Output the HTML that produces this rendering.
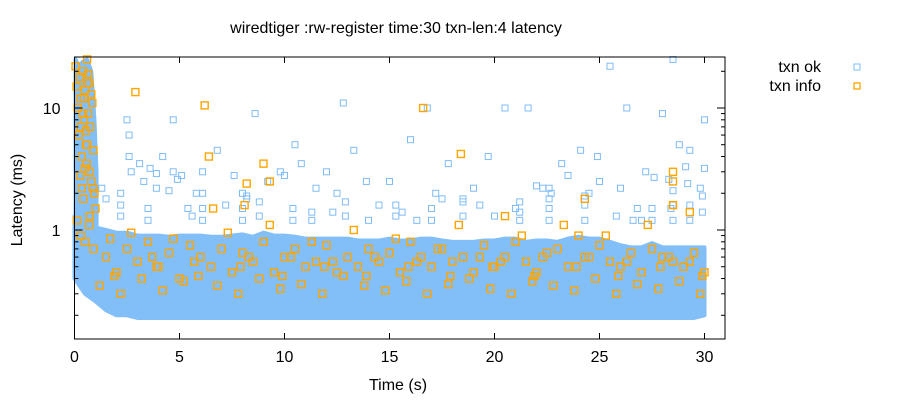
<!DOCTYPE html>
<html><head><meta charset="utf-8"><style>
html,body{margin:0;padding:0;background:#fff;}
svg{display:block;font-family:"Liberation Sans",sans-serif;}
</style></head><body>
<svg id="chart" width="900" height="400" viewBox="0 0 900 400">
<text x="396" y="33" font-size="16" text-anchor="middle">wiredtiger :rw-register time:30 txn-len:4 latency</text>
<text x="398" y="390" font-size="16" text-anchor="middle">Time (s)</text>
<text transform="translate(22,200) rotate(-90)" font-size="16" text-anchor="middle">Latency (ms)</text>
<g id="marks"></g>
<g id="axes"></g>
<g>
<text x="821" y="72" font-size="16" text-anchor="end">txn ok</text>
<rect x="854" y="64" width="6" height="6" fill="none" stroke="#7fbcf7" stroke-width="1"/>
<text x="821" y="91" font-size="16" text-anchor="end">txn info</text>
<rect x="854" y="83" width="6" height="6" fill="none" stroke="#ffa500" stroke-width="1.3"/>
</g>
</svg>
<script>
const xTicks=[0,5,10,15,20,25,30];
const yTicks=[1,10];
// dense band of txn ok latencies (per 0.5s bin): low and high edges
const bandT=[0,0.5,1,1.5,2,2.5,3,3.5,4,4.5,5,5.5,6,6.5,7,7.5,8,8.5,9,9.5,10,10.5,11,11.5,12,12.5,13,13.5,14,14.5,15,15.5,16,16.5,17,17.5,18,18.5,19,19.5,20,20.5,21,21.5,22,22.5,23,23.5,24,24.5,25,25.5,26,26.5,27,27.5,28,28.5,29,29.5,30];
const bandLo=[0.4,0.3,0.26,0.22,0.2,0.2,0.19,0.19,0.19,0.19,0.19,0.19,0.19,0.19,0.19,0.19,0.19,0.19,0.19,0.19,0.19,0.19,0.19,0.19,0.19,0.19,0.19,0.19,0.19,0.19,0.19,0.19,0.19,0.19,0.19,0.19,0.19,0.19,0.19,0.19,0.19,0.19,0.19,0.19,0.19,0.19,0.19,0.19,0.19,0.19,0.19,0.19,0.19,0.19,0.19,0.19,0.19,0.19,0.19,0.19,0.2];
const bandHi=[1.3,1.1,1.05,1.0,0.95,0.95,0.9,0.9,0.9,0.88,0.9,0.9,0.9,0.88,0.88,0.9,0.92,0.88,0.95,0.9,0.9,0.88,0.85,0.85,0.85,0.85,0.85,0.82,0.82,0.82,0.85,0.82,0.82,0.85,0.85,0.82,0.8,0.8,0.8,0.82,0.82,0.85,0.85,0.8,0.82,0.82,0.8,0.85,0.88,0.85,0.85,0.8,0.75,0.72,0.72,0.78,0.72,0.72,0.72,0.72,0.72];
// early burst column (0-1.1s) of txn ok latencies
const burstT=[0.05,0.2,0.4,0.6,0.8,0.95,1.05];
const burstHi=[25,22,24,25,20,8,3];
const burstLo=[0.6,0.8,0.9,0.9,0.9,0.9,0.9];
// scattered txn ok outliers
const okT=[1.3,1.5,2.5,2.6,2.6,2.7,3.1,3.6,3.9,3.9,4.2,4.5,4.7,4.7,4.9,5.1,5.4,5.8,6.1,6.8,7.2,7.6,8.0,8.2,8.6,9.2,9.8,10.0,10.5,10.8,11.5,12.0,12.5,12.8,13.3,13.9,14.5,15.0,15.6,16.0,16.8,17.2,17.8,18.5,19.0,19.7,20.5,21.0,21.6,22.3,22.7,23.2,23.5,24.1,24.5,25.0,25.5,26.0,26.3,26.8,27.2,27.6,28.0,28.3,28.5,28.8,29.1,29.3,29.8,30.0,30.0,29.2,28.4,27.0,22.0,17.5,12.3,8.2,3.3,5.6,24.9,19.3,
 2.2,2.2,2.2,3.5,3.5,6.1,6.1,6.1,8.0,8.0,8.8,8.8,10.4,10.4,11.3,11.3,12.9,12.9,14.0,15.3,15.3,16.3,17.0,17.0,18.5,18.5,21.2,21.2,21.2,22.6,22.6,22.6,22.6,24.3,24.3,24.3,25.8,27.5,27.5,28.5,28.5,28.5,29.3,29.3,29.9,29.9,20.0,26.6];
const okV=[2.2,1.8,8,6,4,3,3.5,3.2,2.9,2.2,4.0,2.1,8,3,2.6,2.8,1.5,2.0,3.0,4.5,1.6,2.8,2.0,1.8,9,2.5,3,2.8,5,3.5,2.2,3.0,2.0,11,4.5,2.5,1.6,2.5,1.4,5.5,10,2,3.5,1.8,2.2,4,10,1.5,10,2.2,2.0,3.5,2.8,4.5,2,2.5,22,2.2,10,1.5,3,2.7,9,2.6,25,5,3.3,4.5,2.2,8,3.2,2.4,1.5,1.2,2.3,1.8,1.4,1.9,2.5,1.3,4,1.6,
 1.3,1.6,2.0,1.2,1.5,1.2,1.5,2.0,1.2,1.5,1.3,1.7,1.2,1.5,1.2,1.4,1.3,1.7,1.2,1.3,1.6,1.2,1.2,1.5,1.3,1.7,1.2,1.4,1.7,1.2,1.5,1.8,2.2,1.2,1.6,1.9,1.3,1.2,1.5,1.2,1.6,2.1,1.2,1.6,1.4,1.9,1.3,1.2];
// txn info points
const infoT=[0.05,0.1,0.15,0.2,0.25,0.3,0.35,0.4,0.45,0.5,0.55,0.6,0.65,0.7,0.75,0.8,0.85,0.9,0.95,1.0,0.12,0.28,0.42,0.58,0.72,0.88,0.3,0.5,0.7,0.9,0.2,0.6,2.9,6.2,6.4,6.6,9.0,9.3,8.2,8.1,1.5,2.0,2.5,3.0,3.5,4.0,4.5,5.0,5.5,6.0,6.5,7.0,7.5,8.0,8.5,9.0,9.5,10.0,10.5,11.0,11.5,12.0,12.5,13.0,13.5,14.0,14.5,15.0,15.5,16.0,16.5,17.0,17.5,18.0,18.5,19.0,19.5,20.0,20.5,21.0,21.5,22.0,22.5,23.0,23.5,24.0,24.5,25.0,25.5,26.0,26.5,27.0,27.5,28.0,28.5,29.0,29.5,30.0,1.2,2.2,3.2,4.2,5.2,6.8,7.8,8.8,9.8,10.8,11.8,12.8,13.8,14.8,15.8,16.8,17.8,18.8,19.8,20.8,21.8,22.8,23.8,24.8,25.8,26.8,27.8,28.8,29.8,16.6,18.4,28.5,28.5,28.5,29.3,20.5,24.3,
 0.4,0.6,0.8,0.3,0.5,0.7,0.35,0.65,0.45,0.55,1.7,2.7,3.7,4.7,5.7,7.3,8.3,9.3,10.3,11.3,12.3,13.3,14.3,15.3,16.3,17.3,18.3,19.3,20.3,21.3,22.3,23.3,24.3,25.3,26.3,27.3,28.3,29.3,1.9,3.9,5.9,7.9,9.9,11.9,13.9,15.9,17.9,19.9,21.9,23.9,25.9,27.9,29.9];
const infoV=[22,15,10,6,18,12,4,20,8,14,5,16,9,3,7,2.5,11,4.5,2,1.5,1.2,2.8,1.8,3.5,1.3,2.2,0.9,0.8,1.1,0.7,6,25,13.5,10.5,4,1.5,3.5,2.5,2.4,1.6,0.6,0.45,0.7,0.55,0.8,0.5,0.65,0.4,0.75,0.6,0.5,0.7,0.45,0.65,0.55,0.8,0.45,0.6,0.7,0.5,0.55,0.75,0.45,0.6,0.5,0.7,0.55,0.65,0.45,0.8,0.6,0.5,0.7,0.55,0.6,0.45,0.75,0.5,0.6,0.8,0.55,0.45,0.65,0.7,0.5,0.9,0.6,0.75,0.55,0.5,0.65,0.45,0.7,0.6,0.55,0.5,0.65,0.45,0.35,0.3,0.4,0.32,0.38,0.35,0.3,0.4,0.33,0.36,0.3,0.42,0.35,0.32,0.38,0.3,0.36,0.4,0.33,0.3,0.38,0.35,0.32,0.4,0.3,0.36,0.33,0.38,0.3,10,4.2,3,2.5,1.6,1.4,1.3,1.8,
 9,5,13,7,3.2,16,2.2,19,12,6.5,0.85,0.95,0.6,0.85,0.55,0.95,0.6,1.1,0.6,0.8,0.55,1.0,0.6,0.85,0.55,0.7,1.1,0.6,0.55,0.9,0.6,1.1,0.6,0.9,0.55,1.1,0.6,0.55,0.42,0.5,0.42,0.5,0.42,0.5,0.42,0.5,0.42,0.5,0.42,0.5,0.42,0.5,0.42];

const X0=74.5, XS=21.0, Y1=230, DEC=122;
const PL=74.5, PR=725, PT=57, PB=339;
function xs(t){return X0+t*XS;}
function ys(v){return Y1-Math.log10(v)*DEC;}
const NS='http://www.w3.org/2000/svg';
function mk(tag,attrs,parent){const e=document.createElementNS(NS,tag);for(const k in attrs)e.setAttribute(k,attrs[k]);parent.appendChild(e);return e;}
const marks=document.getElementById('marks');
const axes=document.getElementById('axes');

function poly(T,Hi,Lo){
  let pts=[];
  for(let i=0;i<T.length;i++)pts.push(xs(T[i])+','+ys(Hi[i]));
  for(let i=T.length-1;i>=0;i--)pts.push(xs(T[i])+','+ys(Lo[i]));
  return pts.join(' ');
}
const band=mk('polygon',{points:poly(bandT,bandHi,bandLo),fill:'#82bef7',stroke:'#82bef7','stroke-width':4,'stroke-linejoin':'round'},marks);


const burst=mk('polygon',{points:poly(burstT,burstHi,burstLo),fill:'#82bef7',stroke:'#82bef7','stroke-width':4,'stroke-linejoin':'round'},marks);



for(let i=0;i<okT.length;i++){
  const r=mk('rect',{x:xs(okT[i])-3,y:ys(okV[i])-3,width:6,height:6,fill:'none',stroke:'#7fbcf7','stroke-width':1},marks);
  
  
}
for(let i=0;i<infoT.length;i++){
  const r=mk('rect',{x:xs(infoT[i])-3.5,y:ys(infoV[i])-3.5,width:7,height:7,fill:'none',stroke:'#ffa500','stroke-width':1.4},marks);
  
  
}

const fr=mk('rect',{x:PL,y:PT,width:PR-PL,height:PB-PT,fill:'none',stroke:'#000','stroke-width':1},axes);


for(const t of xTicks){
  const x=xs(t);
  mk('line',{x1:x,x2:x,y1:PB,y2:PB-6,stroke:'#000'},axes);
  mk('line',{x1:x,x2:x,y1:PT,y2:PT+6,stroke:'#000'},axes);
  const tx=mk('text',{x:x,y:PB+23,'font-size':16,'text-anchor':'middle'},axes);
  tx.textContent=t;
  
  
}
for(const v of yTicks){
  const y=ys(v);
  mk('line',{x1:PL,x2:PL+8,y1:y,y2:y,stroke:'#000'},axes);
  mk('line',{x1:PR,x2:PR-8,y1:y,y2:y,stroke:'#000'},axes);
  const tx=mk('text',{x:PL-14,y:y+6,'font-size':16,'text-anchor':'end'},axes);
  tx.textContent=v;
  
  
}
for(const d of [0.1,1,10]){
  for(let m=2;m<=9;m++){
    const y=ys(d*m);
    if(y<PT||y>PB)continue;
    mk('line',{x1:PL,x2:PL+4,y1:y,y2:y,stroke:'#000'},axes);
    mk('line',{x1:PR,x2:PR-4,y1:y,y2:y,stroke:'#000'},axes);
  }
}
</script>
</body></html>
